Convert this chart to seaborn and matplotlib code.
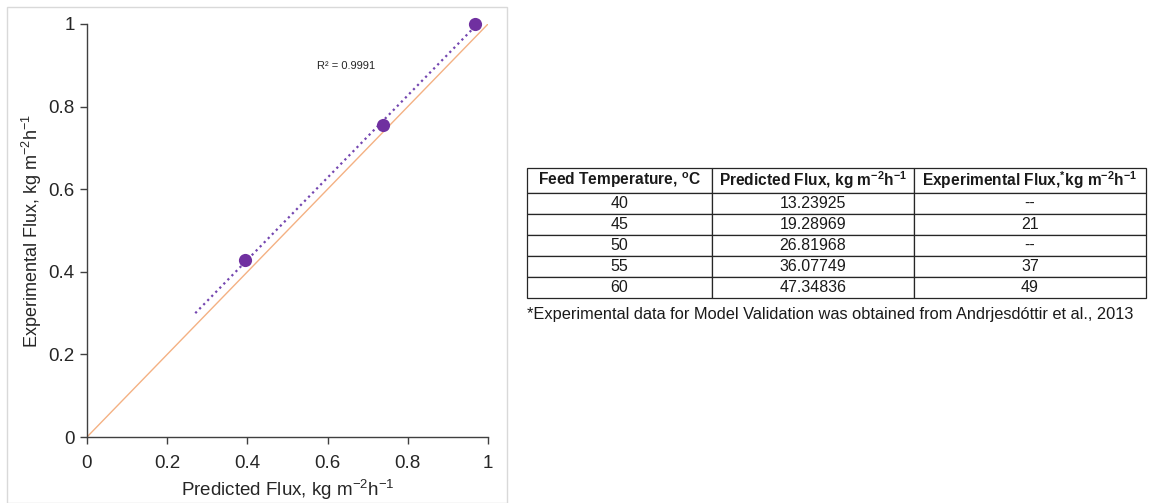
import numpy as np
import pandas as pd
import matplotlib
matplotlib.use("Agg")
import matplotlib.pyplot as plt
import seaborn as sns
from matplotlib.patches import Rectangle

# ---- data ----
predicted = [0.395, 0.737, 0.968]
experimental = [0.428, 0.755, 1.0]
trend_start = 0.27
r2_label = "R² = 0.9991"
diag = [0.0, 1.0]
ticks = [0, 0.2, 0.4, 0.6, 0.8, 1]
tick_labels = ["0", "0.2", "0.4", "0.6", "0.8", "1"]

feed_temp = ["40", "45", "50", "55", "60"]
pred_flux = ["13.23925", "19.28969", "26.81968", "36.07749", "47.34836"]
exp_flux = ["--", "21", "--", "37", "49"]
col_headers = ["Feed Temperature, $^{o}$C",
               "Predicted Flux, kg m$^{-2}$h$^{-1}$",
               "Experimental Flux,$^{*}$kg m$^{-2}$h$^{-1}$"]
footnote = "*Experimental data for Model Validation was obtained from Andrjesdóttir et al., 2013"

sns.set_theme(style="white")
plt.rcParams['font.family'] = ['Liberation Sans', 'DejaVu Sans']
plt.rcParams['mathtext.default'] = 'regular'

fig = plt.figure(figsize=(11.49, 5.03), dpi=100)
fig.patch.set_facecolor("white")

# panel border
fig.add_artist(Rectangle((7/1149, 0.0), 500/1149, 1 - 7/503, transform=fig.transFigure,
                         fill=False, edgecolor="#d9d9d9", linewidth=1.0))

ax = fig.add_axes([87/1149, 1 - 437/503, 401/1149, 413/503])
df = pd.DataFrame({"Predicted": predicted, "Experimental": experimental})

# y = x line
ax.plot(diag, diag, color="#f4b183", linewidth=1.0, zorder=1)

# linear trendline (fit from data)
slope, intercept = np.polyfit(predicted, experimental, 1)
tx = np.array([trend_start, max(predicted)])
ax.plot(tx, slope * tx + intercept, linestyle=(0, (1, 1.6)), color="#7446b0", linewidth=1.6, zorder=2)

sns.scatterplot(data=df, x="Predicted", y="Experimental", ax=ax, s=90, color="#7030a0",
                edgecolor="#7030a0", linewidth=0, zorder=3, clip_on=False)

ax.text(0.574, 0.898, r2_label, fontsize=8, color="#262626", va="center", ha="left")

ax.set_xlim(0, 1)
ax.set_ylim(0, 1)
ax.set_xticks(ticks)
ax.set_yticks(ticks)
ax.set_xticklabels(tick_labels)
ax.set_yticklabels(tick_labels)
for s in ["top", "right"]:
    ax.spines[s].set_visible(False)
for s in ["left", "bottom"]:
    ax.spines[s].set_color("#404040")
    ax.spines[s].set_linewidth(1.0)
ax.tick_params(axis="both", direction="out", length=5, width=1, color="#404040",
               labelsize=13.5, labelcolor="#262626", bottom=True, left=True)
ax.tick_params(axis="x", pad=8)
ax.tick_params(axis="y", pad=4)
ax.set_xlabel("Predicted Flux, kg m$^{-2}$h$^{-1}$", fontsize=13.5, color="#262626", labelpad=4)
ax.set_ylabel("Experimental Flux, kg m$^{-2}$h$^{-1}$", fontsize=13, color="#262626", labelpad=3)
ax.grid(False)

# ---- table ----
tax = fig.add_axes([527/1149, 1 - 298/503, 619/1149, 130/503])
tax.axis("off")
cell_text = [[a, b, c] for a, b, c in zip(feed_temp, pred_flux, exp_flux)]
tbl = tax.table(cellText=cell_text, colLabels=col_headers, cellLoc="center",
                colWidths=[185/619, 202/619, 232/619], bbox=[0, 0, 1, 1])
tbl.auto_set_font_size(False)
for (r, c), cell in tbl.get_celld().items():
    cell.set_edgecolor("#262626")
    cell.set_linewidth(0.9)
    cell.PAD = 0.01
    if r == 0:
        cell.set_height(25/130)
        cell.get_text().set_fontweight("bold")
        cell.get_text().set_fontsize(11.2)
    else:
        cell.set_height(21/130)
        cell.get_text().set_fontsize(11.5)
    cell.get_text().set_color("#1a1a1a")

fig.text(527/1149, 1 - 314/503, footnote, fontsize=11.8, color="#1a1a1a", va="center", ha="left")

fig.savefig("out.png", dpi=100, facecolor="white")
